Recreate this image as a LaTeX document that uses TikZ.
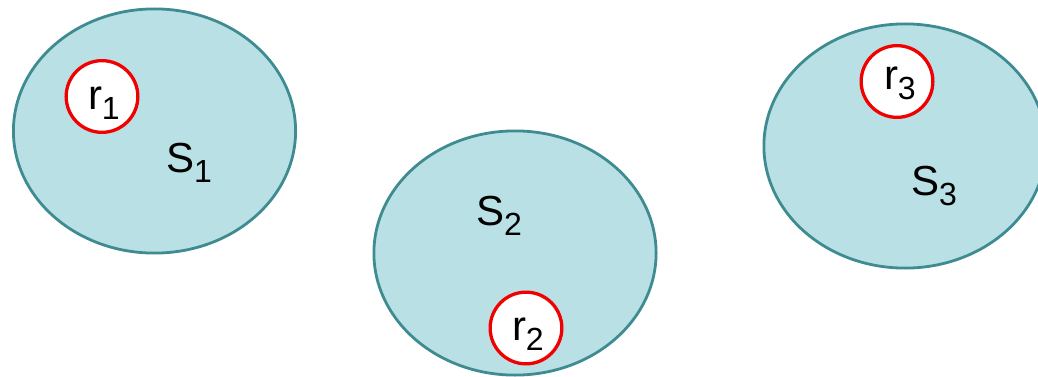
\documentclass[tikz,border=0pt]{standalone}
\usepackage{fontspec}
\setmainfont{Liberation Sans}
\usetikzlibrary{shapes.geometric}
\definecolor{setfill}{RGB}{185,224,228}
\definecolor{setline}{RGB}{62,140,146}
\definecolor{regline}{RGB}{240,0,0}
\newcommand{\lblsub}[2]{#1\raisebox{-10pt}{\fontsize{32}{32}\selectfont #2}}
\tikzset{
  setshape/.style={ellipse, draw=setline, fill=setfill, line width=2.8pt,
    minimum width=282.2pt, minimum height=244.2pt, inner sep=0pt},
  regshape/.style={circle, draw=regline, fill=white, line width=3.3pt,
    minimum size=71.7pt, inner sep=0pt},
  lbltext/.style={anchor=base west, inner sep=0pt, outer sep=0pt,
    font=\fontsize{42}{50}\selectfont}
}
\begin{document}
\begin{tikzpicture}[x=1pt,y=-1pt]
\useasboundingbox (0,0) rectangle (1038,377);
\clip (0,0) rectangle (1038,377);
\node[setshape] (s1) at (154.5,131) {};
\node[setshape] (s2) at (515,253) {};
\node[setshape] (s3) at (905,146) {};
\node[regshape] (c1) at (102,96.5) {};
\node[regshape] (c2) at (526,328) {};
\node[regshape] (c3) at (897,81.5) {};
\node[lbltext] (l1) at (88,110) {\lblsub{r}{1}};
\node[lbltext] (l2) at (512,340) {\lblsub{r}{2}};
\node[lbltext] (l3) at (884,90) {\lblsub{r}{3}};
\node[lbltext] (t1) at (166,172) {\lblsub{S}{1}};
\node[lbltext] (t2) at (476,225) {\lblsub{S}{2}};
\node[lbltext] (t3) at (911,195) {\lblsub{S}{3}};
\end{tikzpicture}
\end{document}
